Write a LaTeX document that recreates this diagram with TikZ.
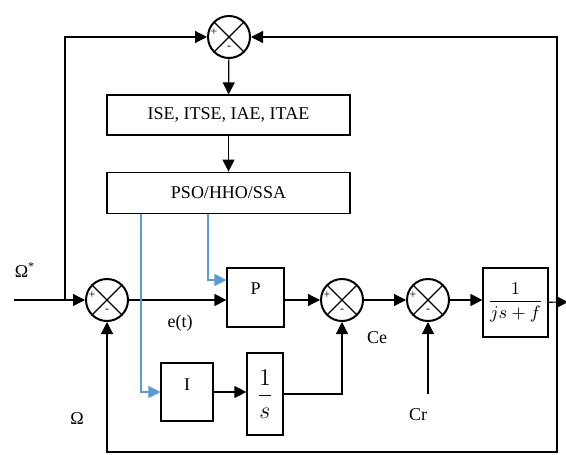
\documentclass[tikz,border=0pt]{standalone}
\usepackage{amsmath}
\usepackage{fontspec}
\setmainfont{Liberation Serif}
\usepackage{tikz}
\usetikzlibrary{arrows.meta,positioning,calc}
\definecolor{optblue}{RGB}{91,155,213}

\begin{document}
\begin{tikzpicture}[
    x=0.5pt, y=-0.5pt,
    font=\fontsize{9}{11}\selectfont,
    line width=0.6pt,
    block/.style={draw, line width=0.6pt, align=center, inner sep=0pt, fill=white},
    sumjn/.style={draw, circle, line width=1pt, minimum size=21pt, inner sep=0pt,
        path picture={
            \draw[line width=0.6pt] (path picture bounding box.north west) -- (path picture bounding box.south east)
                (path picture bounding box.north east) -- (path picture bounding box.south west);
            \node[font=\fontsize{6}{6}\selectfont, inner sep=0pt] at ([xshift=-7.5pt,yshift=2.5pt]path picture bounding box.center) {+};
            \node[font=\fontsize{6}{6}\selectfont, inner sep=0pt] at ([yshift=-5.5pt]path picture bounding box.center) {-};
        }},
    arrow/.style={-{Triangle[length=6pt,width=6pt]}},
    bluearrow/.style={arrow, draw=optblue}
]
\useasboundingbox (0,0) rectangle (566,454);

% optimisation loop
\node[sumjn] (s0) at (229,37) {};
\node[block, minimum width=121.5pt, minimum height=20pt] (ise) at (228.5,115) {ISE, ITSE, IAE, ITAE};
\node[block, minimum width=121.5pt, minimum height=20.5pt, below=18pt of ise] (pso) {PSO/HHO/SSA};
\draw[arrow] (s0) -- (ise);
\draw[arrow] (ise) -- (pso);

% speed loop
\node[sumjn] (s1) at (107,300) {};
\node[block, minimum width=28.5pt, minimum height=29.5pt, text depth=9pt] (kp) at (255.5,297.5) {P};
\node[block, minimum width=26pt, minimum height=29pt, text depth=7pt] (ki) at (187,392) {I};
\node[block, minimum width=18pt, minimum height=41pt] (integ) at (265,394) {\large$\dfrac{1}{s}$};
\node[sumjn] (s2) at (342,300) {};
\node[sumjn] (s3) at (428,300) {};
\node[block, minimum width=32.5pt, minimum height=34.5pt] (plant) at (515.5,302.5) {$\dfrac{1}{js+f}$};

\coordinate (in) at (14,300);
\coordinate (fbl) at (65,300);
\coordinate (out) at (568,302);
\coordinate (fbr) at (557,302);
\coordinate (fbb) at (557,452);
\coordinate (cr) at (s3 |- integ.east);

\draw[arrow] (in) -- (s1);
\draw[arrow] (fbl) |- (s0);
\draw[arrow] (s1.east) -- (s1.east -| kp.west);
\draw[arrow] (kp.east |- s2.west) -- (s2.west);
\draw[arrow] (ki) -- (integ.west |- ki);
\draw[arrow] (integ) -| (s2);
\draw[arrow] (s2) -- (s3);
\draw[arrow] (cr) -- (s3);
\draw[arrow] (s3.east) -- (s3.east -| plant.west);
\draw[arrow] (plant) -- (out);
\draw[arrow] (fbr) |- (s0);
\draw[arrow] (fbr) -- (fbb) -| (s1);

% gains from the optimiser
\draw[bluearrow] ([xshift=-43.75pt]pso.south) |- (ki);
\draw[bluearrow] ([xshift=-10.25pt]pso.south) |- ([yshift=8.75pt]kp.west);

% signals
\node (wref) at (25,270) {Ω\textsuperscript{*}};
\node (et) at (180,323) {e(t)};
\node (ce) at (377,338) {Ce};
\node (crl) at (418,415) {Cr};
\node (w) at (77,419) {Ω};
\end{tikzpicture}
\end{document}
